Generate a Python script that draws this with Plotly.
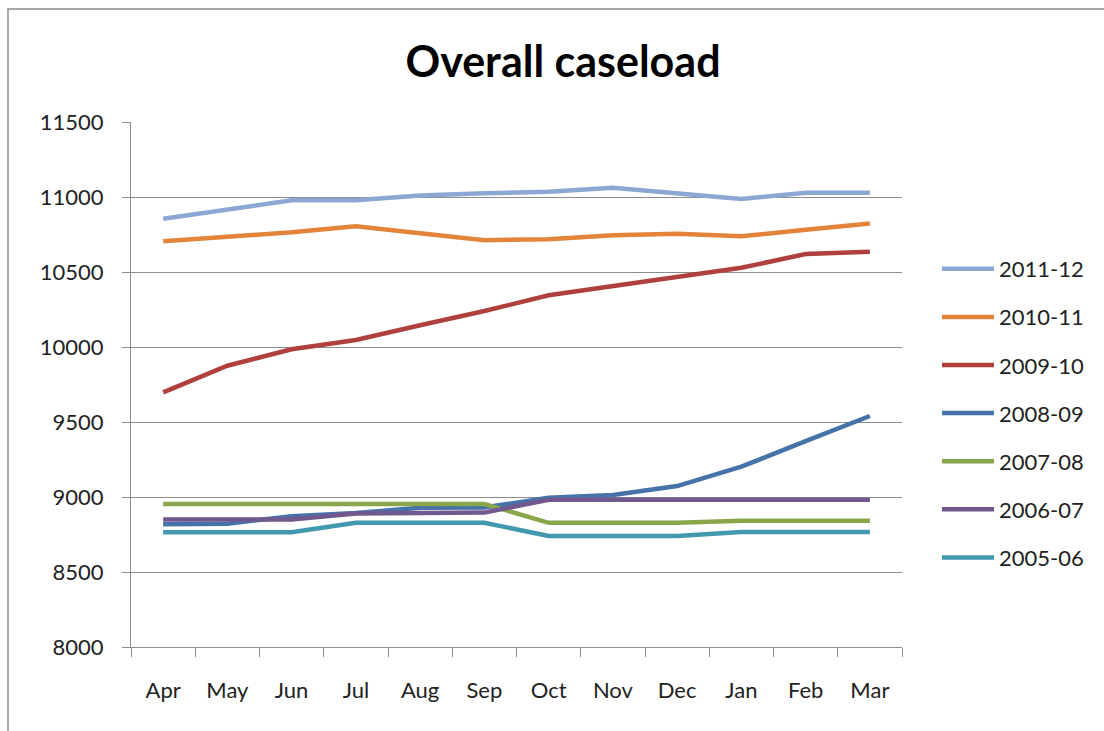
import plotly.graph_objects as go

months = ["Apr", "May", "Jun", "Jul", "Aug", "Sep", "Oct", "Nov", "Dec", "Jan", "Feb", "Mar"]

y2011_12 = [10855, 10918, 10978, 10978, 11010, 11025, 11035, 11062, 11027, 10987, 11028, 11028]
y2010_11 = [10705, 10735, 10765, 10805, 10762, 10712, 10718, 10745, 10755, 10738, 10782, 10823]
y2009_10 = [9697, 9875, 9985, 10047, 10145, 10240, 10345, 10405, 10465, 10528, 10620, 10635]
y2008_09 = [8818, 8822, 8872, 8893, 8928, 8930, 8995, 9013, 9073, 9202, 9372, 9540]
y2007_08 = [8953, 8953, 8953, 8953, 8953, 8953, 8828, 8828, 8828, 8842, 8842, 8842]
y2006_07 = [8850, 8850, 8850, 8890, 8896, 8896, 8982, 8982, 8982, 8982, 8982, 8982]
y2005_06 = [8765, 8765, 8765, 8828, 8828, 8828, 8740, 8740, 8740, 8767, 8767, 8767]

series_names = ["2011-12", "2010-11", "2009-10", "2008-09", "2007-08", "2006-07", "2005-06"]
series_values = [y2011_12, y2010_11, y2009_10, y2008_09, y2007_08, y2006_07, y2005_06]
colors = ["#8DA7D4", "#E3843A", "#B0403D", "#4572A9", "#89A64A", "#71588F", "#4198AF"]

font_family = "Lato, 'Open Sans', sans-serif"

fig = go.Figure()
for i, (name, vals, col) in enumerate(zip(series_names, series_values, colors)):
    fig.add_trace(go.Scatter(
        x=months, y=vals, name=name, mode="lines",
        line=dict(color=col, width=4.5),
        legendgroup="g%d" % i,
    ))

W, H = 1104, 731
L, R, T, B = 131, 202, 122, 84
pw, ph = W - L - R, H - T - B

def px_x(px):
    return (px - L) / pw

def px_y(py):
    return (H - B - py) / ph

fig.add_shape(type="rect", xref="paper", yref="paper",
              x0=px_x(8), x1=px_x(1112), y0=px_y(740), y1=px_y(9),
              line=dict(color="#8c8c8c", width=1.5), fillcolor="rgba(0,0,0,0)", layer="below")

fig.update_layout(
    width=W, height=H,
    margin=dict(l=L, r=R, t=T, b=B),
    paper_bgcolor="white", plot_bgcolor="white",
    font=dict(family=font_family, size=22, color="#222222"),
    title=dict(text="<b>Overall caseload</b>", x=563 / W, xanchor="center",
               y=1 - 62 / H, yanchor="middle", yref="container",
               font=dict(family=font_family, size=43, color="#000000")),
    showlegend=True,
    legend=dict(x=px_x(937), xanchor="left", y=px_y(248), yanchor="top",
                font=dict(family=font_family, size=22, color="#222222"),
                tracegroupgap=16.5, itemwidth=52, bgcolor="rgba(0,0,0,0)"),
    xaxis=dict(
        type="category", range=[-0.5, 11.5], autorange=False,
        showgrid=False, showline=True, linecolor="#8c8c8c", linewidth=1.2,
        ticks="outside", ticklen=9, tickcolor="#8c8c8c", tickson="boundaries",
        ticklabelstandoff=23, zeroline=False,
    ),
    yaxis=dict(
        range=[8000, 11500], dtick=500, showgrid=True, gridcolor="#8c8c8c", gridwidth=1.2,
        showline=True, linecolor="#8c8c8c", linewidth=1.2,
        ticks="outside", ticklen=8, tickcolor="#8c8c8c", ticklabelstandoff=14,
        zeroline=False, tickformat="d",
    ),
)

fig.write_html("out.html")
